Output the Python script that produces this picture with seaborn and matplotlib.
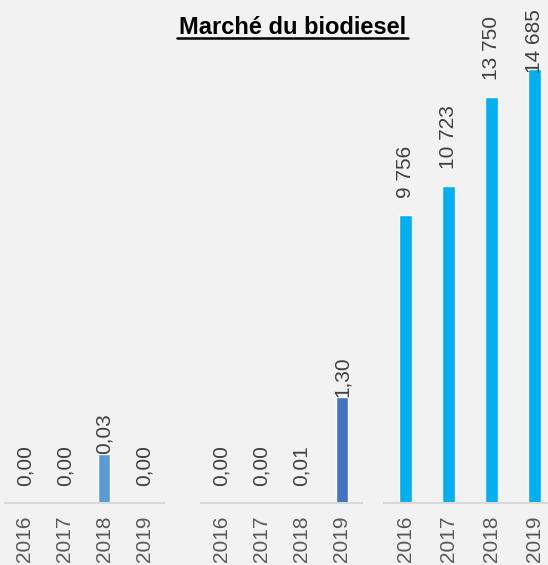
import matplotlib
matplotlib.use("Agg")
import matplotlib.pyplot as plt
import seaborn as sns

# data
years = ["2016", "2017", "2018", "2019"]
panel1_values = [0.00, 0.00, 0.03, 0.00]
panel2_values = [0.00, 0.00, 0.01, 1.30]
panel3_values = [9756, 10723, 13750, 14685]
title = "Marché du biodiesel"

sns.set_style("white")
plt.rcParams["font.family"] = ["Liberation Sans", "DejaVu Sans"]

bg = "#F2F2F2"
fig = plt.figure(figsize=(5.48, 5.65), dpi=100, facecolor=bg)

# (left px, right px, color, ymax, label offsets in points, formatter)
panels = [
    (5, 164, "#5B9BD5", 0.29, [12, 12, 0, 12], lambda v: f"{v:.2f}".replace(".", ",")),
    (201, 362, "#4472C4", 5.8, [12, 12, 12, 0], lambda v: f"{v:.2f}".replace(".", ",")),
    (384, 556, "#00B0F0", 16000, [12, 12, 12, -3], lambda v: f"{v:,.0f}".replace(",", " ")),
]
values = [panel1_values, panel2_values, panel3_values]

W, H = 548, 565
bottom_px, top_px = 503, 30

for (l, r, color, ymax, offs, fmt), vals in zip(panels, values):
    ax = fig.add_axes([l / W, 1 - bottom_px / H, (r - l) / W, (bottom_px - top_px) / H])
    ax.set_facecolor("none")
    sns.barplot(x=years, y=vals, ax=ax, color=color, width=0.3, saturation=1)
    ax.set_ylim(0, ymax)
    ax.set_xlim(-0.5, 3.5)
    for spine in ["top", "right", "left"]:
        ax.spines[spine].set_visible(False)
    ax.spines["bottom"].set_color("#D9D9D9")
    ax.spines["bottom"].set_linewidth(1.5)
    ax.set_yticks([])
    ax.set_ylabel("")
    ax.set_xlabel("")
    ax.tick_params(axis="x", length=0, pad=9, labelsize=15, labelcolor="#595959")
    for lbl in ax.get_xticklabels():
        lbl.set_rotation(90)
        lbl.set_va("top")
    for i, v in enumerate(vals):
        ax.annotate(fmt(v), (i, v), xytext=(0, offs[i]), textcoords="offset points",
                    rotation=90, ha="center", va="bottom", fontsize=15,
                    color="#404040", annotation_clip=False)

fig.text(0.534, 0.951, title, ha="center", va="center", fontsize=17,
         fontweight="bold", color="black")
# underline
fig.add_artist(plt.Line2D([177 / W, 408 / W], [1 - 38 / H, 1 - 38 / H],
                          color="black", linewidth=1.8))

fig.savefig("out.png", dpi=100, facecolor=bg)
